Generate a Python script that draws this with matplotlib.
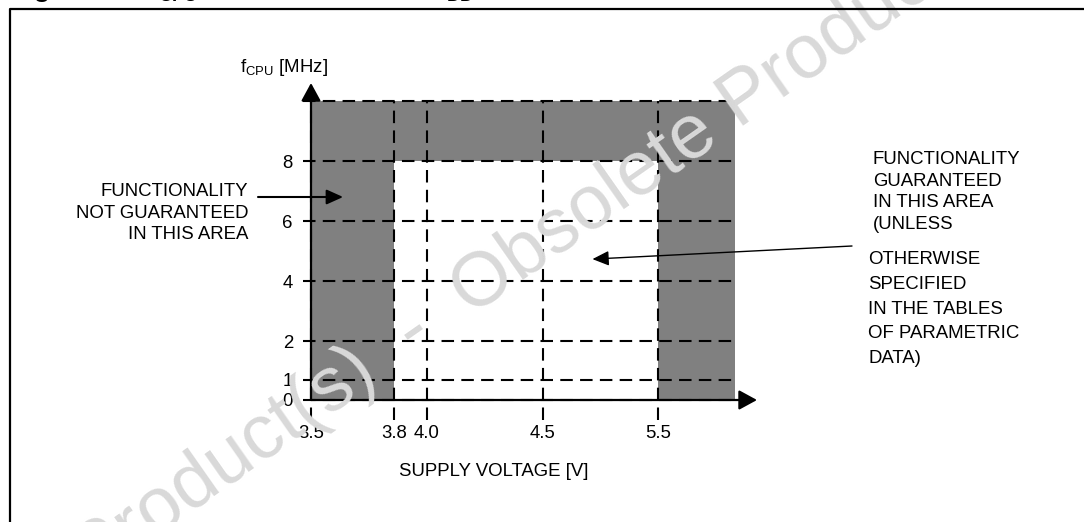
import numpy as np
import matplotlib
matplotlib.use("Agg")
import matplotlib.pyplot as plt
from matplotlib.lines import Line2D

plt.rcParams['font.family'] = ['Liberation Sans', 'DejaVu Sans']
plt.rcParams['mathtext.fontset'] = 'custom'
plt.rcParams['mathtext.rm'] = 'Liberation Sans'
plt.rcParams['mathtext.bf'] = 'Liberation Sans:bold'

W, H = 1084, 522

# ---------------- data ----------------
v_ticks = [3.5, 3.8, 4.0, 4.5, 5.5]
v_labels = ["3.5", "3.8", "4.0", "4.5", "5.5"]
f_ticks = [0, 1, 2, 4, 6, 8]
f_labels = ["0", "1", "2", "4", "6", "8"]
f_grid = [0, 1, 2, 4, 6, 8, 10]

v_min, v_max = 3.5, 6.0        # drawn voltage range
v_ok_lo, v_ok_hi = 3.8, 5.5    # guaranteed voltage window
f_ok_max, f_top = 8, 10        # guaranteed max fCPU, top of plot

# the datasheet axes are not linear: piecewise scale nodes (value -> relative position)
X_NODES = [3.5, 3.8, 4.0, 4.5, 5.5, 6.0]
X_POS = [0, 83, 116, 232, 347, 424]
Y_NODES = [0, 1, 2, 4, 6, 8, 10]
Y_POS = [0, 20, 59, 119, 179, 239, 299]


def fx(v):
    return np.interp(v, X_NODES, X_POS)


def fx_inv(p):
    return np.interp(p, X_POS, X_NODES)


def fy(v):
    return np.interp(v, Y_NODES, Y_POS)


def fy_inv(p):
    return np.interp(p, Y_POS, Y_NODES)


def fpx(x, y):
    # figure pixel (from top-left) -> figure fraction
    return x / W, 1 - y / H


FS = 13.4

fig = plt.figure(figsize=(W / 100, H / 100), dpi=100)

# watermark behind everything
fig.text(*fpx(548, 238), "Product(s)  -  Obsolete Product(s)", fontsize=55,
         color='#d9d9d9', rotation=35, ha='center', va='center',
         rotation_mode='anchor', zorder=0)

ax_l, ax_b = 311 / W, (H - 400) / H
ax_w, ax_h = 424 / W, 299 / H
ax = fig.add_axes([ax_l, ax_b, ax_w, ax_h])
ax.patch.set_visible(False)
ax.set_xscale('function', functions=(fx, fx_inv))
ax.set_yscale('function', functions=(fy, fy_inv))
ax.set_xlim(v_min, v_max)
ax.set_ylim(0, f_top)
for s in ax.spines.values():
    s.set_visible(False)

grey = '#808080'
ax.fill_between([v_min, v_ok_lo], 0, f_top, color=grey, lw=0, zorder=1)
ax.fill_between([v_ok_hi, v_max], 0, f_top, color=grey, lw=0, zorder=1)
ax.fill_between([v_min, v_max], f_ok_max, f_top, color=grey, lw=0, zorder=1)

dash = (0, (6, 3.5))
ext_x = 20 / 299
for v in v_ticks:
    ax.axvline(v, ymin=-ext_x, ymax=1, color='k', lw=1.5, ls=dash,
               clip_on=False, zorder=2)
for f in f_grid:
    ax.axhline(f, xmin=-8 / 424, xmax=426 / 424, color='k', lw=1.5, ls=dash,
               clip_on=False, zorder=2)

# axes with arrows
arr = dict(arrowstyle='-|>,head_length=1.1,head_width=0.6', mutation_scale=10,
           lw=1.6, color='k', shrinkA=0, shrinkB=0)
ax.annotate('', xy=(0, 1 + 18 / 299), xytext=(0, 0), xycoords='axes fraction',
            arrowprops=arr, annotation_clip=False, zorder=4)
ax.annotate('', xy=(446 / 424, 0), xytext=(0, 0), xycoords='axes fraction',
            arrowprops=arr, annotation_clip=False, zorder=4)

ax.set_xticks(v_ticks, v_labels)
ax.set_yticks(f_ticks, f_labels)
ax.tick_params(axis='x', length=0, pad=18, labelsize=FS)
ax.tick_params(axis='y', length=0, pad=13, labelsize=FS)

fig.text(*fpx(240, 68), r"f$_{\mathregular{CPU}}$ [MHz]", fontsize=FS, ha='left', va='center')
fig.text(*fpx(494, 472), "SUPPLY VOLTAGE [V]", fontsize=FS, ha='center', va='center')

# annotations
fig.text(*fpx(248, 213), "FUNCTIONALITY\nNOT GUARANTEED\nIN THIS AREA", fontsize=FS,
         ha='right', va='center', multialignment='right', linespacing=1.33)
ax.annotate('', xy=(3.616, 6.8), xytext=fpx(258, 197), textcoords='figure fraction',
            arrowprops=dict(arrowstyle='-|>,head_length=1.0,head_width=0.45',
                            mutation_scale=10, lw=1.5, color='k', shrinkA=0, shrinkB=0),
            annotation_clip=False, zorder=4)

fig.text(*fpx(873, 192), "FUNCTIONALITY\nGUARANTEED\nIN THIS AREA\n(UNLESS", fontsize=FS,
         ha='left', va='center', linespacing=1.36)
fig.text(*fpx(868, 309), "OTHERWISE\nSPECIFIED\nIN THE TABLES\nOF PARAMETRIC\nDATA)",
         fontsize=FS, ha='left', va='center', linespacing=1.6)
ax.annotate('', xy=(4.93, 4.73), xytext=fpx(852, 246), textcoords='figure fraction',
            arrowprops=dict(arrowstyle='-|>,head_length=1.0,head_width=0.45',
                            mutation_scale=10, lw=1.0, color='k', shrinkA=0, shrinkB=0),
            annotation_clip=False, zorder=4)

# frame of the figure box (only top and left edges are inside the picture)
fig.add_artist(Line2D([10 / W, 10 / W, 1.01], [-0.01, 1 - 9 / H, 1 - 9 / H],
                      color='k', lw=1.6, transform=fig.transFigure))

# title, mostly cut off above the picture
fig.text(10 / W, 1 - 4.5 / H,
         r"Figure 12.  f$_{\mathbf{CPU}}$ maximum versus V$_{\mathbf{DD}}$",
         fontsize=19, fontweight='bold', ha='left', va='bottom')

fig.savefig("out.png", dpi=100)
